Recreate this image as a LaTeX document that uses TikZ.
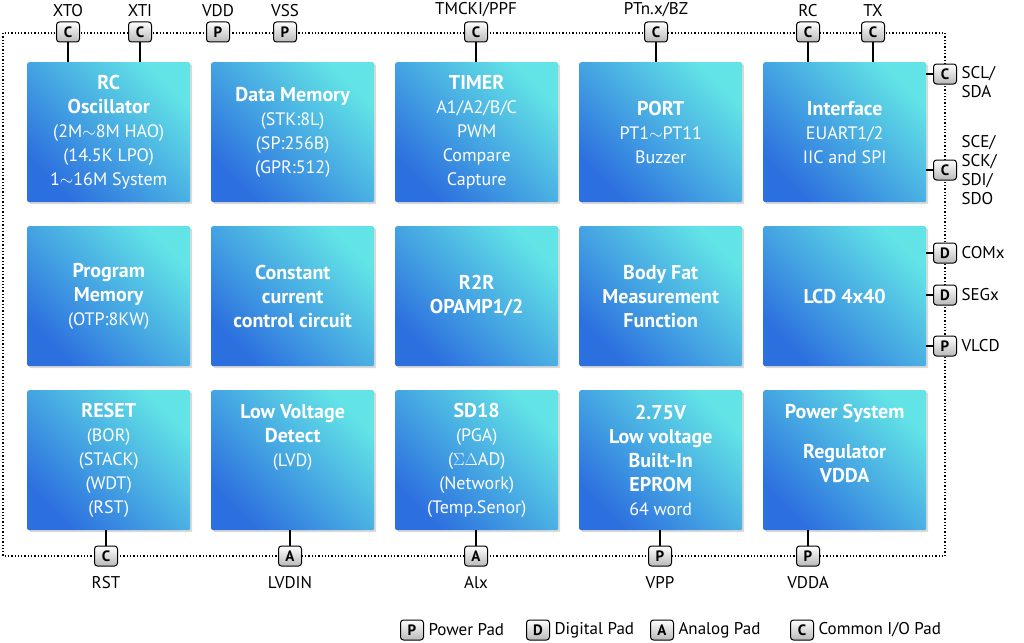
\documentclass[tikz,border=0pt]{standalone}
\usepackage{fontspec}
\setmainfont{PT Sans}
\usetikzlibrary{shadows}
\definecolor{bb}{HTML}{2C6FDF}
\definecolor{cc}{HTML}{62E4E6}
\begin{document}
\begin{tikzpicture}[x=1pt,y=-1pt,
 blk/.style={rounded corners=2pt,minimum width=163pt,minimum height=140pt,anchor=north west,
   shading=axis,left color=cc,right color=bb,shading angle=-45,
   drop shadow={shadow xshift=2pt,shadow yshift=-2pt,opacity=0.3},
   text=white,align=center,font=\fontsize{18}{24}\selectfont},
 pad/.style={draw=black,line width=1pt,rounded corners=3pt,minimum width=23pt,minimum height=20pt,inner sep=0pt,
   top color=white,bottom color=gray!55,font=\bfseries\fontsize{15}{15}\selectfont},
 lab/.style={font=\fontsize{17}{19}\selectfont,align=left},
 wire/.style={line width=1.2pt}]
\useasboundingbox (0,0) rectangle (1024,642);
\draw[dotted,line width=1.3pt] (3,33) rectangle (945,556);
\newcommand\tb[1]{\textbf{\fontsize{20}{24}\selectfont #1}}
% blocks
\node[blk] (b11) at (27,62) {\tb{RC}\\\tb{Oscillator}\\(2M$\sim$8M HAO)\\(14.5K LPO)\\1$\sim$16M System};
\node[blk] (b12) at (211,62) {\tb{Data Memory}\\(STK:8L)\\(SP:256B)\\(GPR:512)};
\node[blk] (b13) at (395,62) {\tb{TIMER}\\A1/A2/B/C\\PWM\\Compare\\Capture};
\node[blk] (b14) at (579,62) {\tb{PORT}\\PT1$\sim$PT11\\Buzzer};
\node[blk] (b15) at (763,62) {\tb{Interface}\\EUART1/2\\IIC and SPI};
\node[blk] (b21) at (27,226) {\tb{Program}\\\tb{Memory}\\(OTP:8KW)};
\node[blk] (b22) at (211,226) {\tb{Constant}\\\tb{current}\\\tb{control circuit}};
\node[blk] (b23) at (395,226) {\tb{R2R}\\\tb{OPAMP1/2}};
\node[blk] (b24) at (579,226) {\tb{Body Fat}\\\tb{Measurement}\\\tb{Function}};
\node[blk] (b25) at (763,226) {\tb{LCD 4x40}};
\node[blk] (b31) at (27,390) {\tb{RESET}\\(BOR)\\(STACK)\\(WDT)\\(RST)};
\node[blk] (b32) at (211,390) {\tb{Low Voltage}\\\tb{Detect}\\(LVD)\\[26pt]};
\node[blk] (b33) at (395,390) {\tb{SD18}\\(PGA)\\($\Sigma\Delta$AD)\\(Network)\\(Temp.Senor)};
\node[blk] (b34) at (579,390) {\tb{2.75V}\\\tb{Low voltage}\\\tb{Built-In}\\\tb{EPROM}\\64 word};
\node[blk] (b35) at (763,390) {\tb{Power System}\\[16pt]\tb{Regulator}\\\tb{VDDA}\\[10pt]};
% top pads
\foreach \n/\x/\t/\l in {xto/68/C/XTO,xti/140/C/XTI,vdd/218/P/VDD,vss/285/P/VSS,tm/476/C/{TMCKI/PPF},pt/656/C/{PTn.x/BZ},rc/808/C/RC,tx/873/C/TX}{
  \node[pad] (p\n) at (\x,32) {\t};
  \node[lab,anchor=south] (l\n) at (\x,20) {\l};
}
\foreach \n/\b in {xto/b11,xti/b11,tm/b13,pt/b14,rc/b15,tx/b15}
  \draw[wire] (p\n.south) -- (p\n.south |- \b.north);
% right pads
\node[pad] (pscl) at (945,74) {C};
\node[pad] (psce) at (945,170) {C};
\node[pad] (pcom) at (945,253) {D};
\node[pad] (pseg) at (945,295) {D};
\node[pad] (pvl) at (945,346) {P};
\node[lab,anchor=west] at (958,82) {SCL/\\SDA};
\node[lab,anchor=west] at (958,170) {SCE/\\SCK/\\SDI/\\SDO};
\node[lab,anchor=west] at (958,253) {COMx};
\node[lab,anchor=west] at (958,295) {SEGx};
\node[lab,anchor=west] at (958,346) {VLCD};
\foreach \n/\b in {scl/b15,sce/b15,com/b25,seg/b25,vl/b25}
  \draw[wire] (\b.east |- p\n) -- (p\n.west);
% bottom pads
\foreach \n/\x/\t/\l/\b in {rst/106/C/RST/b31,lvd/290/A/LVDIN/b32,ai/476/A/Alx/b33,vpp/660/P/VPP/b34,vdda/808/P/VDDA/b35}{
  \node[pad] (p\n) at (\x,556) {\t};
  \node[lab,anchor=north] (l\n) at (\x,573) {\l};
  \draw[wire] (p\n.north) -- (p\n.north |- \b.south);
}
% legend
\node[pad] (lp) at (412,630) {P};
\node[lab,anchor=west] at (425,630) {Power Pad};
\node[pad] (ld) at (538,630) {D};
\node[lab,anchor=west] at (551,630) {Digital Pad};
\node[pad] (la) at (662,630) {A};
\node[lab,anchor=west] at (675,630) {Analog Pad};
\node[pad] (lc) at (802,630) {C};
\node[lab,anchor=west] at (815,630) {Common I/O Pad};
\end{tikzpicture}
\end{document}
